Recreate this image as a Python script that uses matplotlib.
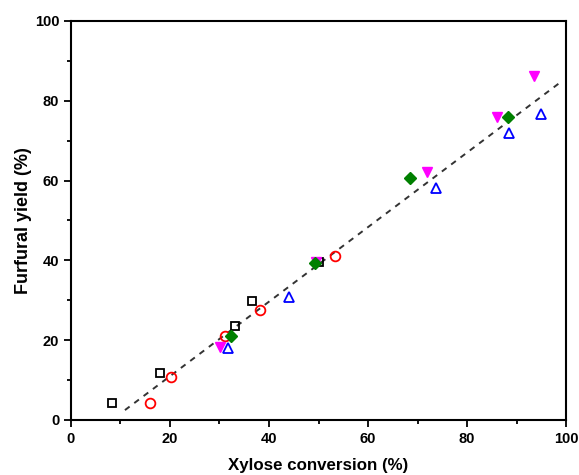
import numpy as np
import matplotlib.pyplot as plt
from matplotlib.ticker import MultipleLocator

plt.rcParams['font.family'] = ['Liberation Sans', 'DejaVu Sans']
plt.rcParams['font.weight'] = 'bold'

# ---- data ----
sq_x = [8.3, 18.0, 33.1, 36.6, 50.1]
sq_y = [4.2, 11.8, 23.6, 29.8, 39.7]

circ_x = [16.0, 20.2, 31.1, 38.2, 53.3]
circ_y = [4.3, 10.8, 21.0, 27.6, 41.0]

tri_x = [31.7, 44.0, 73.7, 88.5, 95.0]
tri_y = [18.0, 30.9, 58.1, 71.9, 76.7]

dtri_x = [30.1, 49.5, 71.9, 86.1, 93.5]
dtri_y = [18.3, 39.6, 62.2, 75.9, 86.2]

dia_x = [32.3, 49.3, 68.5, 88.3]
dia_y = [21.0, 39.3, 60.7, 75.9]

# linear fit shown as dashed line
fit_slope = 0.934
fit_icept = -7.7
fit_range = [10.9, 99.2]

fig = plt.figure(figsize=(5.79, 4.75), dpi=100)
ax = fig.add_axes([0.1226, 0.1158, 0.855, 0.84])

ax.plot(sq_x, sq_y, 's', ms=6, mfc='none', mec='black', mew=1.3, zorder=3)
ax.plot(circ_x, circ_y, 'o', ms=7, mfc='none', mec='red', mew=1.3, zorder=3)
ax.plot(tri_x, tri_y, '^', ms=7.5, mfc='none', mec='blue', mew=1.3, zorder=3)
ax.plot(dtri_x, dtri_y, 'v', ms=7.5, color='magenta', zorder=3)
ax.plot(dia_x, dia_y, 'D', ms=6, color='green', zorder=4)

fx = np.array(fit_range)
ax.plot(fx, fit_slope * fx + fit_icept, ls=(0, (3, 3)), color='#333333', lw=1.4, zorder=2)

ax.set_xlim(0, 100)
ax.set_ylim(0, 100)
ax.xaxis.set_major_locator(MultipleLocator(20))
ax.xaxis.set_minor_locator(MultipleLocator(10))
ax.yaxis.set_major_locator(MultipleLocator(20))
ax.yaxis.set_minor_locator(MultipleLocator(10))
ax.tick_params(which='both', direction='out', width=1.3, labelsize=10.5)
ax.tick_params(which='major', length=5)
ax.tick_params(which='minor', length=3)
for s in ax.spines.values():
    s.set_linewidth(1.5)

ax.set_xlabel("Xylose conversion (%)", fontsize=12.2, fontweight='bold', labelpad=9)
ax.set_ylabel("Furfural yield (%)", fontsize=13, fontweight='bold', labelpad=2)

fig.savefig("out.png", dpi=100)
